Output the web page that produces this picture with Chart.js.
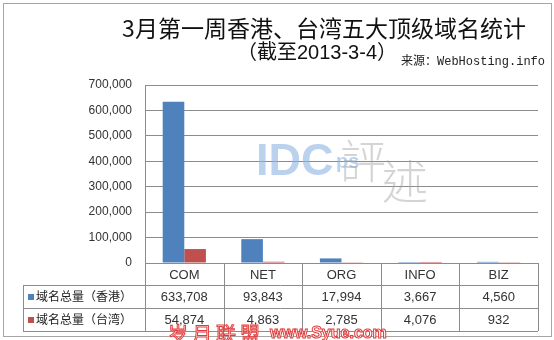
<!DOCTYPE html>
<html>
<head>
<meta charset="utf-8">
<script src="https://cdn.jsdelivr.net/npm/chart.js@4"></script>
<style>
  html, body { margin: 0; padding: 0; background: #fff; }
  #wrap { width: 554px; height: 340px; position: relative; }
</style>
</head>
<body>
<div id="wrap"><canvas id="grafico" width="554" height="340"></canvas></div>
<script>
// datos
const categorias = ['COM', 'NET', 'ORG', 'INFO', 'BIZ'];
const series = ['域名总量（香港）', '域名总量（台湾）'];
const hongkong = [633708, 93843, 17994, 3667, 4560];
const taiwan = [54874, 4863, 2785, 4076, 932];
const ejeMax = 700000;
const ejePaso = 100000;

const colores = ['#4F81BD', '#C0504D'];
const gris = '#8c8c8c';
const latin = "'Liberation Sans', 'Noto Sans CJK SC', sans-serif";
const cjk = "'Noto Sans CJK SC', 'Liberation Sans', sans-serif";

function fmt(n) { return n.toLocaleString('en-US'); }

// marco, titulo, tabla de datos y marcas de agua
const extras = {
  id: 'extras',
  beforeDraw(chart) {
    const c = chart.ctx;
    c.save();
    c.fillStyle = '#fff';
    c.fillRect(0, 0, chart.width, chart.height);
    c.strokeStyle = '#a6a6a6';
    c.lineWidth = 1;
    c.strokeRect(3.5, 3.5, 548, 333);
    c.restore();
  },
  afterDatasetsDraw(chart) {
    const c = chart.ctx;
    const x = chart.scales.x;
    const area = chart.chartArea;
    const mitad = (x.getPixelForValue(1) - x.getPixelForValue(0)) / 2;
    const filas = [area.bottom, area.bottom + 22, area.bottom + 45, area.bottom + 68];
    const izq = 23;

    c.save();
    // titulo
    c.fillStyle = '#111';
    c.textBaseline = 'middle';
    c.textAlign = 'center';
    c.font = "23px " + cjk;
    c.fillText('3月第一周香港、台湾五大顶级域名统计', 324, 28);
    c.textAlign = 'right';
    c.font = "20px " + latin;
    c.fillText('（截至2013-3-4）', 397, 53);
    c.textAlign = 'left';
    c.font = "12px 'Liberation Mono', 'Noto Sans CJK SC', monospace";
    c.fillStyle = '#222';
    c.fillText('来源：WebHosting.info', 401, 62);

    // marca de agua IDCps
    c.fillStyle = 'rgba(140,180,225,0.6)';
    c.textBaseline = 'alphabetic';
    c.font = "bold 45px " + latin;
    c.fillText('IDC', 256, 175);
    c.font = "bold 20px " + latin;
    c.fillText('ps', 336, 168);
    c.fillStyle = 'rgba(160,160,160,0.45)';
    c.font = "200 46px 'Noto Sans CJK TC', sans-serif";
    c.fillText('評', 340, 178);
    c.fillText('述', 382, 198);

    // tabla
    c.strokeStyle = gris;
    c.lineWidth = 1;
    c.beginPath();
    for (let i = 1; i < filas.length; i++) {
      const y = Math.round(filas[i]) + 0.5;
      c.moveTo(izq, y);
      c.lineTo(area.right, y);
    }
    c.moveTo(izq + 0.5, filas[1]);
    c.lineTo(izq + 0.5, filas[3]);
    for (let i = 0; i <= categorias.length; i++) {
      const xx = Math.round(x.getPixelForValue(i) - mitad) + 0.5;
      c.moveTo(xx, filas[0]);
      c.lineTo(xx, filas[3]);
    }
    c.stroke();

    c.textBaseline = 'middle';
    c.textAlign = 'center';
    c.fillStyle = '#333';
    c.font = "13px " + latin;
    categorias.forEach((cat, i) => {
      const cx = x.getPixelForValue(i);
      c.fillText(cat, cx, (filas[0] + filas[1]) / 2 + 1);
      c.fillText(fmt(hongkong[i]), cx, (filas[1] + filas[2]) / 2 + 1);
      c.fillText(fmt(taiwan[i]), cx, (filas[2] + filas[3]) / 2 + 1);
    });

    c.textAlign = 'left';
    c.font = "12px " + cjk;
    series.forEach((nombre, k) => {
      const cy = (filas[k + 1] + filas[k + 2]) / 2;
      c.fillStyle = colores[k];
      c.fillRect(28, Math.round(cy) - 3, 6, 6);
      c.fillStyle = '#222';
      c.fillText(nombre, 36, cy);
    });

    // marca de agua roja (letras huecas)
    c.font = "20px " + cjk;
    c.lineWidth = 1;
    c.strokeStyle = '#e23b3b';
    c.fillStyle = 'rgba(255,255,255,0.85)';
    const marca = [['岁', 168], ['月', 192], ['联', 216], ['盟', 240]];
    marca.forEach(([t, px]) => { c.fillText(t, px, 334); c.strokeText(t, px, 334); });
    c.font = "bold 16px " + latin;
    c.fillText('www.Syue.com', 270, 334);
    c.strokeText('www.Syue.com', 270, 334);
    c.restore();
  }
};

new Chart(document.getElementById('grafico').getContext('2d'), {
  type: 'bar',
  data: {
    labels: categorias,
    datasets: [
      { label: series[0], data: hongkong, backgroundColor: colores[0] },
      { label: series[1], data: taiwan, backgroundColor: colores[1] }
    ]
  },
  options: {
    responsive: false,
    animation: false,
    layout: { padding: { left: 0, right: 16, top: 85, bottom: 77 } },
    datasets: { bar: { categoryPercentage: 0.55, barPercentage: 1.0 } },
    plugins: {
      legend: { display: false },
      tooltip: { enabled: false }
    },
    scales: {
      x: { display: false },
      y: {
        min: 0,
        max: ejeMax,
        afterFit(scale) { scale.width = 145; },
        border: { color: gris },
        grid: { color: gris, drawTicks: false },
        ticks: {
          stepSize: ejePaso,
          padding: 13,
          color: '#333',
          font: { family: latin, size: 12 },
          callback: v => fmt(v)
        }
      }
    }
  },
  plugins: [extras]
});
</script>
</body>
</html>
